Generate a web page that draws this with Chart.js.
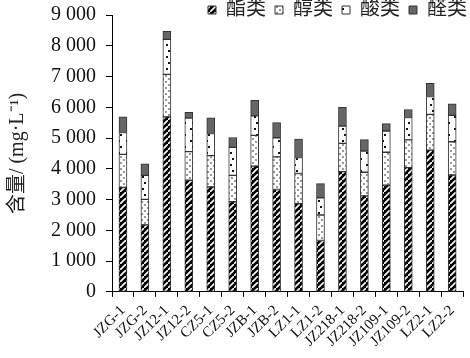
<!DOCTYPE html>
<html><head><meta charset="utf-8">
<script src="https://cdn.jsdelivr.net/npm/chart.js@4/dist/chart.umd.min.js"></script>
<style>html,body{margin:0;padding:0;background:#fff}#wrap{width:470px;height:358px}</style>
</head><body><div id="wrap"><canvas id="c" width="470" height="358"></canvas></div>
<script>
const categories = ["JZG-1","JZG-2","JZ12-1","JZ12-2","CZ5-1","CZ5-2","JZB-1","JZB-2","LZ1-1","LZ1-2","JZ218-1","JZ218-2","JZ109-1","JZ109-2","LZ2-1","LZ2-2"];
const seriesNames = ["酯类","醇类","酸类","醛类"];
const esters   = [3400,2180,5690,3630,3410,2930,4090,3330,2870,1670,3910,3120,3470,4040,4610,3800];
const alcohols = [1070,830,1380,930,1020,860,1000,1060,980,830,920,770,1070,900,1160,1080];
const acids    = [710,780,1140,1090,720,910,630,620,520,560,560,690,690,730,580,860];
const aldehydes= [510,370,260,190,510,320,510,490,600,460,610,370,240,260,430,370];
const yTicks = [0,1000,2000,3000,4000,5000,6000,7000,8000,9000];

function tile(w,h,draw){const c=document.createElement('canvas');c.width=w;c.height=h;const x=c.getContext('2d');draw(x);return x.createPattern(c,'repeat');}
const pEster = tile(6,6,x=>{x.fillStyle='#000';x.fillRect(0,0,6,6);x.strokeStyle='#fff';x.lineWidth=1.6;x.beginPath();x.moveTo(-1,7);x.lineTo(7,-1);x.stroke();});
const pAlc = tile(6,6,x=>{x.fillStyle='#fff';x.fillRect(0,0,6,6);x.fillStyle='#999';x.fillRect(0,0,2,2);x.fillRect(3,3,2,2);});
const pAcid = tile(8,12,x=>{x.fillStyle='#fff';x.fillRect(0,0,8,12);x.fillStyle='#111';x.fillRect(0,2,2,2);x.fillRect(6,8,2,2);});
const cAld = '#666';

const fills=[pEster,pAlc,pAcid,cAld];
const vals=[esters,alcohols,acids,aldehydes];
const datasets = seriesNames.map((n,i)=>({label:n,data:vals[i],backgroundColor:fills[i],borderColor:'#333',borderWidth:1,barThickness:8,borderSkipped:false}));

const fmt = v => { const s=String(v); return s.length>3 ? s.slice(0,-3)+' '+s.slice(-3) : s; };

const legendShift = {id:'legendShift', afterLayout(chart){ const l=chart.legend; if(l){ l.top=-9; l.bottom=30; l.height=39; l.left+=9; l.right+=9; } }};

new Chart(document.getElementById('c'),{
  type:'bar',
  data:{labels:categories,datasets},
  plugins:[legendShift],
  options:{
    responsive:false,animation:false,devicePixelRatio:1,
    layout:{padding:{left:0,right:3,top:0,bottom:3}},
    plugins:{
      legend:{display:true,position:'top',align:'end',maxHeight:15,
        labels:{boxWidth:8,boxHeight:8,padding:9,color:'#222',font:{family:"'Liberation Serif','Noto Sans CJK SC'",size:20}}},
      tooltip:{enabled:false}
    },
    scales:{
      x:{stacked:true,
        grid:{display:true,drawOnChartArea:false,drawTicks:true,tickLength:5,color:'#000',offset:true},
        border:{color:'#000',width:1},
        ticks:{color:'#111',maxRotation:45,minRotation:45,autoSkip:false,padding:5,font:{family:"'Liberation Serif'",size:15}}},
      y:{stacked:true,min:0,max:9000,
        afterBuildTicks:s=>{s.ticks=yTicks.map(v=>({value:v}));},
        afterFit:s=>{s.width=112; s.paddingTop=0;},
        grid:{display:true,drawOnChartArea:false,drawTicks:true,tickLength:6,color:'#000'},
        border:{color:'#000',width:1},
        title:{display:true,text:'含量/ (mg·L⁻¹)',color:'#222',padding:{top:6,bottom:0},font:{family:"'Liberation Serif','Noto Sans CJK SC'",size:20}},
        ticks:{color:'#111',padding:10,callback:v=>fmt(v),font:{family:"'Liberation Serif'",size:20}}}
    }
  }
});
</script></body></html>
